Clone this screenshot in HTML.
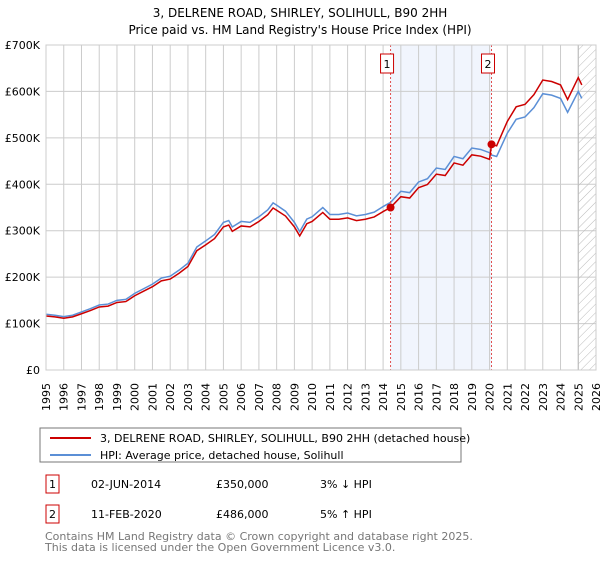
<!DOCTYPE html>
<html><head><meta charset="utf-8"><style>
body{margin:0;background:#fff;font-family:"DejaVu Sans","Liberation Sans",sans-serif;}
svg text{font-family:"DejaVu Sans","Liberation Sans",sans-serif;}
</style></head><body>
<svg id="c" width="600" height="560" xmlns="http://www.w3.org/2000/svg">
<defs><pattern id="hatch" width="6" height="6" patternUnits="userSpaceOnUse" patternTransform="rotate(45)"><line x1="0" y1="0" x2="0" y2="6" stroke="#bbb" stroke-width="1"/></pattern></defs>
<text x="300" y="17" text-anchor="middle" font-size="12">3, DELRENE ROAD, SHIRLEY, SOLIHULL, B90 2HH</text>
<text x="300" y="34" text-anchor="middle" font-size="12">Price paid vs. HM Land Registry's House Price Index (HPI)</text>
<g id="grid"></g><g id="marks"></g><g id="axes"></g>
<rect x="40" y="428" width="421" height="34" fill="#fff" stroke="#777"/>
<line x1="50" y1="438" x2="91" y2="438" stroke="#cc0000" stroke-width="2"/>
<text x="100" y="442" font-size="11">3, DELRENE ROAD, SHIRLEY, SOLIHULL, B90 2HH (detached house)</text>
<line x1="50" y1="455" x2="91" y2="455" stroke="#5b8fd6" stroke-width="2"/>
<text x="100" y="459" font-size="11">HPI: Average price, detached house, Solihull</text>
<rect x="46" y="475" width="13" height="18" fill="#fff" stroke="#cc0000"/>
<text x="52.5" y="488" text-anchor="middle" font-size="11">1</text>
<text x="91" y="488" font-size="11">02-JUN-2014</text>
<text x="216" y="488" font-size="11">£350,000</text>
<text x="320" y="488" font-size="11">3% ↓ HPI</text>
<rect x="46" y="505" width="13" height="18" fill="#fff" stroke="#cc0000"/>
<text x="52.5" y="518" text-anchor="middle" font-size="11">2</text>
<text x="91" y="518" font-size="11">11-FEB-2020</text>
<text x="216" y="518" font-size="11">£486,000</text>
<text x="320" y="518" font-size="11">5% ↑ HPI</text>
<text x="45" y="540" font-size="11" fill="#777">Contains HM Land Registry data © Crown copyright and database right 2025.</text>
<text x="45" y="551" font-size="11" fill="#777">This data is licensed under the Open Government Licence v3.0.</text>
</svg>
<script>
const years=[1995,1995.5,1996,1996.5,1997,1997.5,1998,1998.5,1999,1999.5,2000,2000.5,2001,2001.5,2002,2002.5,2003,2003.5,2004,2004.5,2005,2005.3,2005.5,2006,2006.5,2007,2007.5,2007.8,2008,2008.5,2009,2009.3,2009.7,2010,2010.6,2011,2011.5,2012,2012.5,2013,2013.5,2014,2014.42,2015,2015.5,2016,2016.5,2017,2017.5,2018,2018.5,2019,2019.5,2020,2020.11,2020.4,2021,2021.5,2022,2022.5,2023,2023.5,2024,2024.4,2025,2025.2];
const hpi=[120,118,115,118,125,132,140,142,150,152,165,175,185,198,202,215,230,265,278,292,318,322,308,320,318,330,345,360,355,342,318,298,325,330,350,335,335,338,332,335,340,352,361,385,382,405,412,435,432,460,455,478,475,468,463,460,510,540,545,565,595,592,585,555,600,585];
const saleYears=[2014.42,2020.11];
const salePrices=[350,486];
const yTicks=[0,100,200,300,400,500,600,700];
const yTickLabels=["£0","£100K","£200K","£300K","£400K","£500K","£600K","£700K"];
const xTicks=[1995,1996,1997,1998,1999,2000,2001,2002,2003,2004,2005,2006,2007,2008,2009,2010,2011,2012,2013,2014,2015,2016,2017,2018,2019,2020,2021,2022,2023,2024,2025,2026];
const X0=46,X1=596,Y0=370,Y1=45;
const xs=y=>X0+(y-1995)/(2026-1995)*(X1-X0);
const ys=v=>Y0-v/700*(Y0-Y1);
const NS="http://www.w3.org/2000/svg";
function mk(p,t,a){const e=document.createElementNS(NS,t);for(const k in a)e.setAttribute(k,a[k]);p.appendChild(e);return e;}
const grid=document.getElementById('grid'),marks=document.getElementById('marks'),axes=document.getElementById('axes');
let r=mk(grid,'rect',{x:xs(saleYears[0]),y:Y1,width:xs(saleYears[1])-xs(saleYears[0]),height:Y0-Y1,fill:'#eef3fc',opacity:0.8});


xTicks.forEach(t=>{const l=mk(grid,'line',{x1:xs(t),x2:xs(t),y1:Y1,y2:Y0,stroke:'#ccc'});


const tx=mk(axes,'text',{transform:`translate(${xs(t)+4},383) rotate(-90)`,'text-anchor':'end','font-size':11});tx.textContent=t;

});
yTicks.forEach((t,i)=>{const l=mk(grid,'line',{x1:X0,x2:X1,y1:ys(t),y2:ys(t),stroke:'#ccc'});


const tx=mk(axes,'text',{x:40,y:ys(t)+4,'text-anchor':'end','font-size':11});tx.textContent=yTickLabels[i];

});
const h=mk(grid,'rect',{x:xs(2025),y:Y1,width:X1-xs(2025),height:Y0-Y1,fill:'url(#hatch)',stroke:'#bbb'});


const f0=salePrices[0]/hpi[years.indexOf(saleYears[0])],f1=salePrices[1]/hpi[years.indexOf(saleYears[1])];
const hp=years.map((y,i)=>xs(y)+','+ys(hpi[i])).join(' ');
const rp=years.map((y,i)=>xs(y)+','+ys(hpi[i]*(y<saleYears[1]?f0:f1))).join(' ');
const bl=mk(marks,'polyline',{points:hp,fill:'none',stroke:'#5b8fd6','stroke-width':1.5});


const rl=mk(marks,'polyline',{points:rp,fill:'none',stroke:'#cc0000','stroke-width':1.5});


saleYears.forEach((s,i)=>{
const vl=mk(marks,'line',{x1:xs(s),x2:xs(s),y1:Y1,y2:Y0,stroke:'#e05050','stroke-dasharray':'2,2'});


const c=mk(marks,'circle',{cx:xs(s),cy:ys(salePrices[i]),r:4,fill:'#cc0000'});


const b=mk(marks,'rect',{x:xs(s)-10,y:54,width:13,height:19,fill:'#fff',stroke:'#cc0000'});


const t=mk(marks,'text',{x:xs(s)-3.5,y:68,'text-anchor':'middle','font-size':11});t.textContent=i+1;

});
const ax=mk(axes,'rect',{x:X0,y:Y1,width:X1-X0,height:Y0-Y1,fill:'none',stroke:'#ccc'});


</script>
</body></html>
